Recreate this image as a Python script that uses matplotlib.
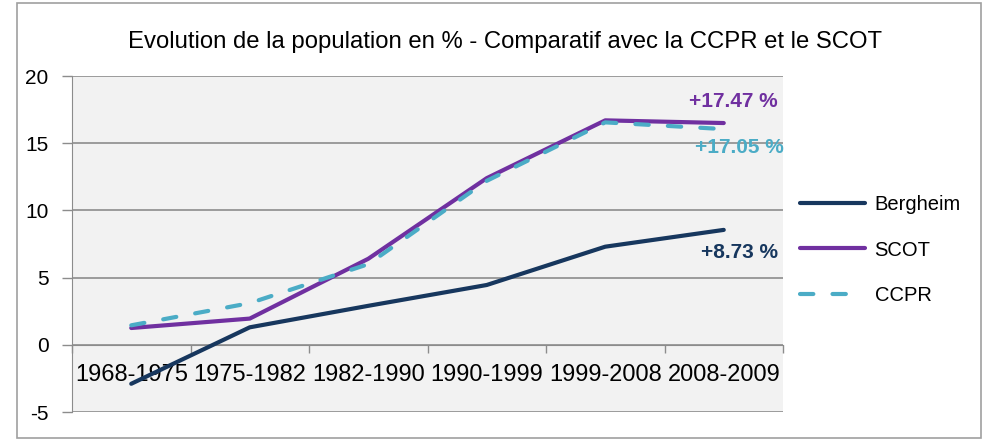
import matplotlib
matplotlib.use('Agg')
import matplotlib.pyplot as plt
from matplotlib.patches import Rectangle
from matplotlib.ticker import FixedLocator

# Data (% population change per period)
periods = ['1968-1975', '1975-1982', '1982-1990', '1990-1999', '1999-2008', '2008-2009']
bergheim = [-2.9, 1.3, 2.9, 4.45, 7.3, 8.55]
scot = [1.25, 1.95, 6.4, 12.4, 16.7, 16.5]
ccpr = [1.45, 3.1, 6.0, 12.2, 16.55, 16.05]

end_labels = ['+8.73 %', '+17.47 %', '+17.05 %']

c_berg = '#17375E'
c_scot = '#7030A0'
c_ccpr = '#4BACC6'

plt.rcParams['font.family'] = ['Liberation Sans', 'DejaVu Sans']
plt.rcParams['axes.unicode_minus'] = False

fig = plt.figure(figsize=(9.97, 4.41), dpi=100)
ax = fig.add_axes([72/997, 1 - 412/441, (783 - 72)/997, (412 - 76)/441])
ax.set_facecolor('#F2F2F2')

# x axis sits on y = 0 (set first, it resets the ticks)
ax.spines['bottom'].set_position(('data', 0))
ax.spines['bottom'].set_color('#8C8C8C')
ax.spines['left'].set_color('#8C8C8C')
ax.spines['top'].set_visible(False)
ax.spines['right'].set_visible(False)

x = list(range(len(periods)))
ax.plot(x, bergheim, color=c_berg, lw=3, solid_capstyle='round', label='Bergheim', zorder=3)
ax.plot(x, scot, color=c_scot, lw=3, solid_capstyle='round', label='SCOT', zorder=3)
ax.plot(x, ccpr, color=c_ccpr, lw=3, dashes=(3.2, 4.6), dash_capstyle='round',
        label='CCPR', zorder=4)

ax.set_xlim(-0.5, 5.5)
ax.set_ylim(-5, 20)
ax.set_yticks([-5, 0, 5, 10, 15, 20])
ax.grid(axis='y', color='#8C8C8C', lw=1.2)
ax.set_axisbelow(True)

# tick marks between categories
ax.set_xticks(x)
ax.set_xticklabels(periods)
ax.xaxis.set_minor_locator(FixedLocator([i - 0.5 for i in range(len(periods) + 1)]))
ax.tick_params(axis='x', which='major', length=0, pad=14, labelsize=17)
ax.tick_params(axis='x', which='minor', length=6, width=1, color='#8C8C8C', direction='out')
ax.tick_params(axis='y', length=7, width=1, color='#8C8C8C', labelsize=15, pad=10)

# end of line labels
ax.text(5.13, 6.9, end_labels[0], color=c_berg, fontsize=15, fontweight='bold',
        ha='center', va='center')
ax.text(5.08, 18.07, end_labels[1], color=c_scot, fontsize=15, fontweight='bold',
        ha='center', va='center')
ax.text(5.13, 14.65, end_labels[2], color=c_ccpr, fontsize=15, fontweight='bold',
        ha='center', va='center')

fig.text(505/997, 1 - 42/441, 'Evolution de la population en % - Comparatif avec la CCPR et le SCOT',
         ha='center', va='center', fontsize=17.2)

fig.legend(loc='center left', bbox_to_anchor=(790/997, 1 - 250/441), frameon=False,
           fontsize=14.5, handlelength=3.2, handletextpad=0.5, labelspacing=1.3,
           borderpad=0)

fig.patches.append(Rectangle((17/997, 1 - 438/441), (981 - 17)/997, (438 - 3)/441,
                             transform=fig.transFigure, fill=False, edgecolor='#A0A0A0', lw=1.2))

plt.savefig('out.png', dpi=100)
